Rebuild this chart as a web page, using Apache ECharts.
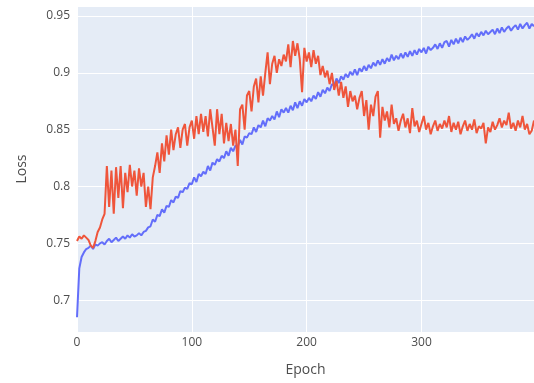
<!DOCTYPE html>
<html>
<head>
<meta charset="utf-8">
<script src="https://cdn.jsdelivr.net/npm/echarts@6/dist/echarts.min.js"></script>
<style>
  html, body { margin: 0; padding: 0; background: #fff; }
  #chart { width: 534px; height: 383px; }
</style>
</head>
<body>
<div id="chart"></div>
<script>
let epochs = [];
for (let e = 0; e <= 398; e += 2) epochs.push(e);

let trainLoss = [
    0.685, 0.728, 0.738, 0.742, 0.745, 0.746,
    0.748, 0.745, 0.749, 0.748, 0.750,
    0.751, 0.749, 0.752, 0.754, 0.751, 0.753, 0.755, 0.752, 0.754, 0.756,
    0.754, 0.757, 0.755, 0.758, 0.756, 0.757, 0.759, 0.757, 0.760, 0.761,
    0.764, 0.765, 0.771, 0.769, 0.775, 0.774, 0.780, 0.777, 0.783, 0.782,
    0.788, 0.786, 0.791, 0.790, 0.796, 0.795, 0.799, 0.798, 0.803, 0.802,
    0.808, 0.804, 0.811, 0.809, 0.813, 0.811, 0.818, 0.814, 0.821, 0.819,
    0.824, 0.822, 0.827, 0.825, 0.831, 0.827, 0.834, 0.831, 0.836, 0.835,
    0.841, 0.837, 0.844, 0.843, 0.847, 0.846, 0.852, 0.848, 0.854, 0.852,
    0.858, 0.853, 0.860, 0.858, 0.862, 0.859, 0.866, 0.861, 0.868, 0.865,
    0.869, 0.865, 0.871, 0.867, 0.874, 0.869, 0.875, 0.871, 0.877, 0.874,
    0.878, 0.875, 0.880, 0.877, 0.883, 0.879, 0.885, 0.882, 0.887, 0.884,
    0.890, 0.889, 0.895, 0.891, 0.897, 0.894, 0.899, 0.896, 0.901, 0.898,
    0.903, 0.898, 0.904, 0.901, 0.906, 0.902, 0.907, 0.904, 0.909, 0.906,
    0.911, 0.907, 0.912, 0.908, 0.913, 0.910, 0.916, 0.911, 0.915, 0.912,
    0.917, 0.913, 0.918, 0.914, 0.919, 0.915, 0.920, 0.916, 0.921, 0.918,
    0.922, 0.917, 0.923, 0.920, 0.922, 0.925, 0.921, 0.926, 0.922, 0.927,
    0.928, 0.923, 0.929, 0.925, 0.930, 0.926, 0.931, 0.927, 0.932, 0.929,
    0.931, 0.934, 0.930, 0.935, 0.932, 0.936, 0.933, 0.937, 0.934, 0.936,
    0.938, 0.934, 0.939, 0.935, 0.940, 0.936, 0.939, 0.941, 0.937, 0.940,
    0.942, 0.938, 0.943, 0.939, 0.942, 0.944, 0.939, 0.943, 0.941
];

let valLoss = [
    0.752, 0.756, 0.754, 0.757, 0.755, 0.753,
    0.748, 0.746, 0.752, 0.760, 0.764,
    0.771, 0.776, 0.818, 0.782, 0.814, 0.776, 0.817, 0.790, 0.818, 0.781,
    0.812, 0.795, 0.819, 0.800, 0.814, 0.792, 0.816, 0.800, 0.812, 0.782,
    0.800, 0.780, 0.808, 0.818, 0.830, 0.812, 0.838, 0.822, 0.845, 0.828,
    0.850, 0.832, 0.846, 0.852, 0.834, 0.850, 0.855, 0.836, 0.852, 0.858,
    0.842, 0.862, 0.846, 0.864, 0.848, 0.862, 0.844, 0.868, 0.852, 0.836,
    0.868, 0.846, 0.864, 0.838, 0.856, 0.840, 0.855, 0.836, 0.850, 0.818,
    0.868, 0.872, 0.850, 0.880, 0.884, 0.866, 0.888, 0.895, 0.874, 0.897,
    0.880, 0.900, 0.918, 0.890, 0.908, 0.915, 0.900, 0.912, 0.906, 0.916,
    0.910, 0.925, 0.905, 0.928, 0.915, 0.926, 0.912, 0.883, 0.922, 0.910,
    0.918, 0.905, 0.920, 0.908, 0.915, 0.898, 0.906, 0.896, 0.902, 0.890,
    0.900, 0.885, 0.893, 0.880, 0.892, 0.878, 0.888, 0.870, 0.884, 0.875,
    0.880, 0.868, 0.878, 0.884, 0.862, 0.876, 0.850, 0.872, 0.862, 0.879,
    0.884, 0.843, 0.870, 0.858, 0.866, 0.852, 0.872, 0.855, 0.860, 0.849,
    0.858, 0.864, 0.852, 0.860, 0.847, 0.869, 0.853, 0.858, 0.848, 0.855,
    0.862, 0.850, 0.856, 0.846, 0.853, 0.858, 0.849, 0.855, 0.851, 0.858,
    0.852, 0.862, 0.848, 0.856, 0.850, 0.857, 0.846, 0.853, 0.858, 0.849,
    0.855, 0.850, 0.859, 0.847, 0.853, 0.851, 0.856, 0.838, 0.852, 0.848,
    0.857, 0.850, 0.854, 0.860, 0.852, 0.858, 0.854, 0.865, 0.851, 0.856,
    0.849, 0.858, 0.852, 0.862, 0.850, 0.855, 0.846, 0.849, 0.858
];

let xTicks = [0, 100, 200, 300];
let yTicks = [0.7, 0.75, 0.8, 0.85, 0.9, 0.95];

let textColor = '#4d4d4d';
let font = '"Open Sans", "Noto Sans", sans-serif';

let option = {
    animation: false,
    textStyle: { fontFamily: font },
    grid: {
        left: 77, right: -1, top: 6, bottom: 51,
        show: true, backgroundColor: '#E5ECF6', borderWidth: 0
    },
    xAxis: {
        type: 'value',
        min: 0, max: 398, interval: 100,
        name: 'Epoch', nameLocation: 'middle', nameGap: 31,
        nameTextStyle: { fontSize: 14, color: textColor, fontFamily: font },
        axisLine: { show: false }, axisTick: { show: false },
        axisLabel: {
            color: textColor, fontSize: 12, margin: 5, fontFamily: font,
            showMaxLabel: false,
            formatter: v => xTicks.includes(v) ? String(v) : ''
        },
        splitLine: { show: true, lineStyle: { color: '#ffffff', width: 1 } }
    },
    yAxis: {
        type: 'value',
        min: 0.672, max: 0.9588,
        name: 'Loss', nameLocation: 'middle', nameGap: 48, nameRotate: 90,
        nameTextStyle: { fontSize: 14, color: textColor, fontFamily: font },
        axisLine: { show: false }, axisTick: { show: false },
        axisLabel: {
            color: textColor, fontSize: 12, margin: 7, fontFamily: font,
            showMinLabel: false, showMaxLabel: false,
            formatter: v => {
                let r = Math.round(v * 100) / 100;
                return yTicks.some(t => Math.abs(t - v) < 1e-6) ? String(r) : '';
            }
        },
        splitLine: { show: true, lineStyle: { color: '#ffffff', width: 1 } }
    },
    series: [
        {
            name: 'train',
            type: 'line',
            data: epochs.map((e, i) => [e, trainLoss[i]]),
            showSymbol: false,
            lineStyle: { color: '#636EFA', width: 2 },
            itemStyle: { color: '#636EFA' }
        },
        {
            name: 'val',
            type: 'line',
            data: epochs.map((e, i) => [e, valLoss[i]]),
            showSymbol: false,
            lineStyle: { color: '#EF553B', width: 2 },
            itemStyle: { color: '#EF553B' }
        }
    ]
};

let chart = echarts.init(document.getElementById('chart'));
chart.setOption(option);
</script>
</body>
</html>
